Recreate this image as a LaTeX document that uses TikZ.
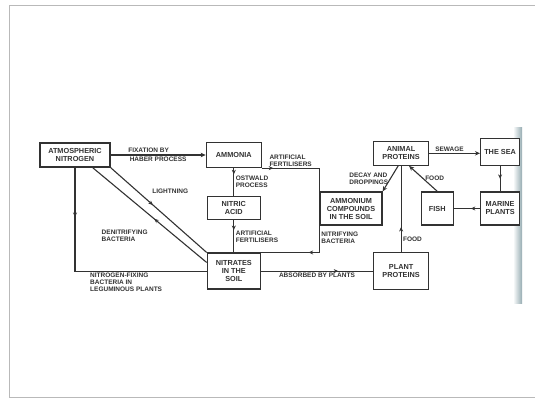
\documentclass[tikz,border=0pt]{standalone}
\usepackage{fontspec}
\setmainfont{Liberation Sans}
\usepackage{xcolor}
\usepackage{tikz}
\usetikzlibrary{arrows.meta, positioning, decorations.markings, calc}
\definecolor{scan}{RGB}{50,50,50}
\definecolor{edgeband}{RGB}{150,172,178}
\tikzset{
  cycbox/.style={rectangle, draw=scan, line width=1.3pt, fill=white, align=center, inner sep=1pt, text=scan, font=\fontsize{7.3}{8}\selectfont\bfseries},
  flow/.style={draw=scan, line width=1.1pt},
  midtip/.style={postaction={decorate}, decoration={markings, mark=at position #1 with {\arrow{Stealth[length=4.5pt, width=4pt]}}}},
  lbl/.style={font=\fontsize{6.5}{7}\selectfont\bfseries, text=scan, align=left, inner sep=1.5pt},
}

\begin{document}
\begin{tikzpicture}[x=1pt, y=1pt,
  rel/.style={flow, -{Stealth[length=5pt, width=4.5pt]}}]
\useasboundingbox (0,0) rectangle (535,-398);
\draw[gray!55, line width=0.8pt] (535,-5) -- (9,-5) -- (9,-397) -- (535,-397);
\shade[left color=white, right color=edgeband] (513,-128) rectangle (522,-303);

\node[cycbox, minimum width=70pt, minimum height=24pt] (atm) at (75,-155) {ATMOSPHERIC\\NITROGEN};
\node[cycbox, minimum width=55pt, minimum height=25pt, right=95pt of atm] (ammonia) {AMMONIA};
\node[cycbox, minimum width=53pt, minimum height=23pt, below=28pt of ammonia] (nitric) {NITRIC\\ACID};
\node[cycbox, minimum width=53pt, minimum height=36pt, below=32pt of nitric] (nitrates) {NITRATES\\IN THE\\SOIL};
\node[cycbox, minimum width=55pt, minimum height=37pt, right=112pt of nitrates] (plant) {PLANT\\PROTEINS};
\node[cycbox, minimum width=55pt, minimum height=24pt, above=86pt of plant] (animal) {ANIMAL\\PROTEINS};
\node[cycbox, minimum width=62pt, minimum height=33pt] (ammonium) at (351,-208.5) {AMMONIUM\\COMPOUNDS\\IN THE SOIL};
\node[cycbox, minimum width=32pt, minimum height=33pt, right=38pt of ammonium] (fish) {FISH};
\node[cycbox, minimum width=39pt, minimum height=33pt, right=26pt of fish] (marine) {MARINE\\PLANTS};
\node[cycbox, minimum width=39pt, minimum height=27pt, above=25pt of marine] (sea) {THE SEA};

\draw[rel] (atm) -- node[lbl, above, pos=0.4]{FIXATION BY} node[lbl, below, pos=0.5]{HABER PROCESS} (ammonia);
\draw[flow, midtip=0.44] (atm.south east) -- node[lbl, pos=0.33, anchor=south west, xshift=8pt]{LIGHTNING} (nitrates.north west);
\draw[flow, midtip=0.46] ([yshift=-10pt]nitrates.north west) -- node[lbl, pos=0.5, anchor=north east, yshift=-13pt]{DENITRIFYING\\BACTERIA} ([xshift=-18pt]atm.south east);
\draw[flow, midtip=0.21] (atm.south) |- node[lbl, pos=0.55, below right]{NITROGEN-FIXING\\BACTERIA IN\\LEGUMINOUS PLANTS} (nitrates.west);
\draw[flow, midtip=0.22] (ammonia) -- node[lbl, right]{OSTWALD\\PROCESS} (nitric);
\draw[flow, midtip=0.3] (nitric) -- node[lbl, right]{ARTIFICIAL\\FERTILISERS} (nitrates);
\draw[flow, midtip=0.14] (ammonia.south east) -| node[lbl, pos=0.25, above]{ARTIFICIAL\\FERTILISERS} (ammonium.north west);
\draw[flow, midtip=0.44] (ammonium.south west) |- node[lbl, pos=0.22, right]{NITRIFYING\\BACTERIA} (nitrates.north east);
\draw[flow, midtip=0.69] (nitrates) -- node[lbl, below]{ABSORBED BY PLANTS} (plant);
\draw[flow, midtip=0.29] (plant) -- node[lbl, pos=0.15, right]{FOOD} (animal);
\draw[rel] ([xshift=-3pt]animal.south) -- node[lbl, left]{DECAY AND\\DROPPINGS} (ammonium.north east);
\draw[rel] (fish.north) -- node[lbl, right]{FOOD} ([xshift=8pt]animal.south);
\draw[rel] (animal.east) -- node[lbl, above, pos=0.4]{SEWAGE} (animal.east -| sea.west);
\draw[flow, midtip=0.5] (sea) -- (marine);
\draw[flow, midtip=0.35] (marine) -- (fish);
\end{tikzpicture}
\end{document}
